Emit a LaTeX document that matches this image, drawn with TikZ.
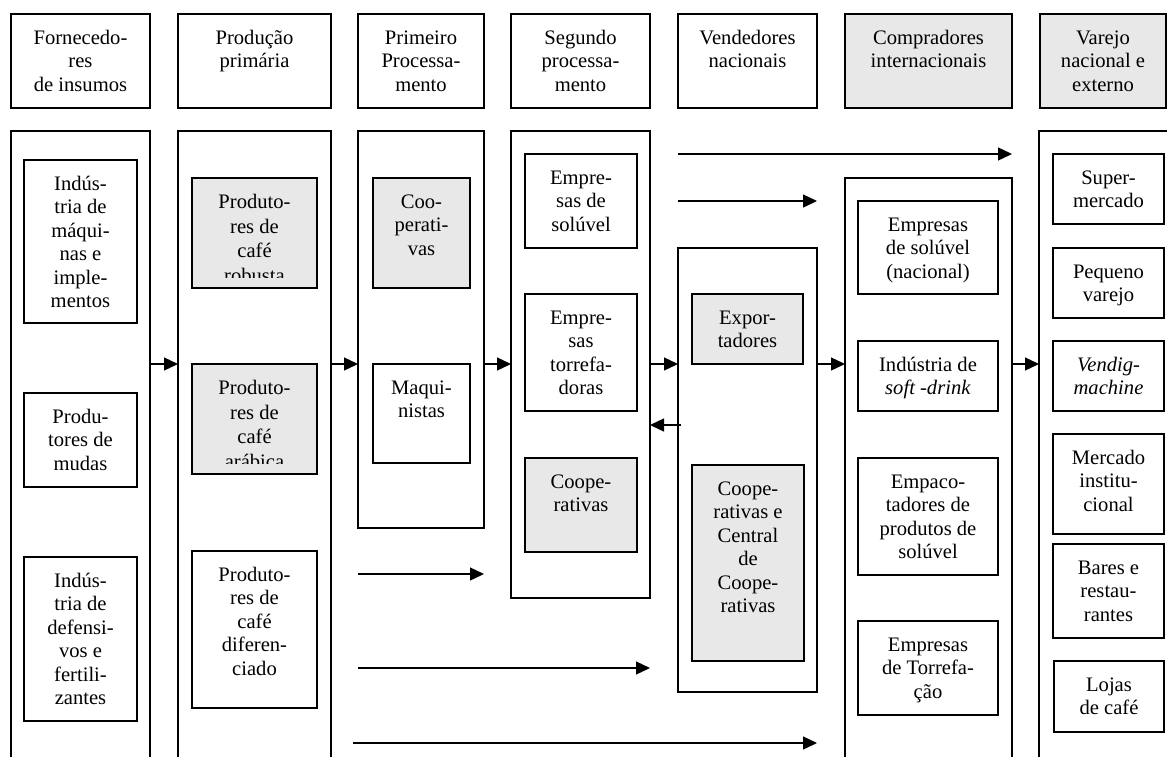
\documentclass[tikz,border=0pt]{standalone}
\usepackage{fontspec}
\setmainfont{Liberation Serif}
\usetikzlibrary{arrows.meta}
\definecolor{boxgray}{RGB}{232,232,232}
\newcommand{\rbox}[6]{\node[#1, minimum width={#5-#3}, minimum height={#6-#4}] (#2) at ({(#3+#5)/2},{(#4+#6)/2}) {};}
\newcommand{\btxt}[3][]{\node[txt,#1] at ([yshift=-13.5pt]#2.north) {\strut #3};}
\begin{document}
\begin{tikzpicture}[x=1pt,y=-1pt,
  frame/.style={draw, line width=1.3pt, inner sep=0pt, outer sep=0pt, rectangle},
  wbox/.style={frame, fill=white},
  gbox/.style={frame, fill=boxgray},
  txt/.style={anchor=north, align=center, inner sep=0pt, font=\fontsize{20.6}{23.5}\selectfont},
  wide/.style={font=\fontsize{20.6}{24.5}\selectfont},
  arr/.style={draw, line width=1.3pt, -{Triangle[length=14pt,width=13pt]}}]
\useasboundingbox (0,0) rectangle (1167,756);
% header row
\rbox{wbox}{h1}{11}{14}{150}{108}
\rbox{wbox}{h2}{178}{14}{331}{108}
\rbox{wbox}{h3}{358}{14}{484}{108}
\rbox{wbox}{h4}{511}{14}{650}{108}
\rbox{wbox}{h5}{678}{14}{817}{108}
\rbox{gbox}{h6}{845}{14}{1012}{108}
\rbox{gbox}{h7}{1040}{14}{1166}{108}
\btxt{h1}{Fornecedo-\\res\\de insumos}
\btxt{h2}{Produção\\primária}
\btxt{h3}{Primeiro\\Processa-\\mento}
\btxt{h4}{Segundo\\processa-\\mento}
\btxt{h5}{Vendedores\\nacionais}
\btxt{h6}{Compradores\\internacionais}
\btxt{h7}{Varejo\\nacional e\\externo}
% columns
\rbox{wbox}{c1}{11}{131}{150}{775}
\rbox{wbox}{c2}{178}{131}{331}{775}
\rbox{wbox}{c3}{358}{131}{484}{528}
\rbox{wbox}{c4}{511}{131}{650}{598}
\rbox{wbox}{c5}{678}{248}{817}{692}
\rbox{wbox}{c6}{845}{178}{1012}{775}
\rbox{wbox}{c7}{1039}{131}{1185}{775}
% column 1
\rbox{wbox}{b11}{24}{160}{137}{323}
\rbox{wbox}{b12}{24}{393}{137}{487}
\rbox{wbox}{b13}{24}{557}{137}{721}
\btxt{b11}{Indús-\\tria de\\máqui-\\nas e\\imple-\\mentos}
\btxt{b12}{Produ-\\tores de\\mudas}
\btxt{b13}{Indús-\\tria de\\defensi-\\vos e\\fertili-\\zantes}
% column 2
\rbox{gbox}{b21}{192}{178}{317}{288}
\rbox{gbox}{b22}{192}{364}{317}{474}
\rbox{wbox}{b23}{192}{551}{317}{708}
\begin{scope}
\clip (b21.north west) rectangle ([yshift=11pt]b21.south east);
\btxt[wide]{b21}{Produto-\\res de\\café\\robusta}
\end{scope}
\begin{scope}
\clip (b22.north west) rectangle ([yshift=11pt]b22.south east);
\btxt[wide]{b22}{Produto-\\res de\\café\\arábica}
\end{scope}
\btxt{b23}{Produto-\\res de\\café\\diferen-\\ciado}
% column 3
\rbox{gbox}{b31}{373}{178}{470}{288}
\rbox{wbox}{b32}{373}{364}{470}{463}
\btxt{b31}{Coo-\\perati-\\vas}
\btxt{b32}{Maqui-\\nistas}
% column 4
\rbox{wbox}{b41}{525}{154}{637}{248}
\rbox{wbox}{b42}{525}{294}{637}{411}
\rbox{gbox}{b43}{525}{458}{637}{552}
\btxt{b41}{Empre-\\sas de\\solúvel}
\btxt{b42}{Empre-\\sas\\torrefa-\\doras}
\btxt{b43}{Coope-\\rativas}
% column 5
\rbox{gbox}{b51}{692}{294}{803}{364}
\rbox{gbox}{b52}{692}{465}{804}{661}
\btxt{b51}{Expor-\\tadores}
\btxt{b52}{Coope-\\rativas e\\Central\\de\\Coope-\\rativas}
% column 6
\rbox{wbox}{b61}{858}{201}{998}{294}
\rbox{wbox}{b62}{858}{341}{998}{411}
\rbox{wbox}{b63}{858}{458}{998}{575}
\rbox{wbox}{b64}{858}{621}{998}{715}
\btxt{b61}{Empresas\\de solúvel\\(nacional)}
\btxt{b62}{Indústria de\\\textit{soft -drink}}
\btxt{b63}{Empaco-\\tadores de\\produtos de\\solúvel}
\btxt{b64}{Empresas\\de Torrefa-\\ção}
% column 7
\rbox{wbox}{b71}{1053}{154}{1164}{224}
\rbox{wbox}{b72}{1053}{248}{1164}{318}
\rbox{wbox}{b73}{1053}{341}{1164}{411}
\rbox{wbox}{b74}{1053}{434}{1164}{534}
\rbox{wbox}{b75}{1053}{544}{1164}{638}
\rbox{wbox}{b76}{1054}{661}{1164}{732}
\btxt{b71}{Super-\\mercado}
\btxt{b72}{Pequeno\\varejo}
\btxt{b73}{\textit{Vendig-}\\\textit{machine}}
\btxt{b74}{Mercado\\institu-\\cional}
\btxt{b75}{Bares e\\restau-\\rantes}
\btxt{b76}{Lojas\\de café}
% arrow levels
\coordinate (ya) at (0,154);
\coordinate (yb) at (0,201);
\coordinate (ym) at (0,364);
\coordinate (yr) at (0,425);
\coordinate (yc) at (0,574);
\coordinate (yd) at (0,668);
\coordinate (ye) at (0,743);
% main flow
\draw[arr] (c1.east |- ym) -- (c2.west |- ym);
\draw[arr] (c2.east |- ym) -- (c3.west |- ym);
\draw[arr] (c3.east |- ym) -- (c4.west |- ym);
\draw[arr] (c4.east |- ym) -- (c5.west |- ym);
\draw[arr] (c5.east |- ym) -- (c6.west |- ym);
\draw[arr] (c6.east |- ym) -- (c7.west |- ym);
\draw[arr] ([xshift=3pt]c5.west |- yr) -- (c4.east |- yr);
% bypass arrows
\draw[arr] (c5.west |- ya) -- (c6.east |- ya);
\draw[arr] (c5.west |- yb) -- (c5.east |- yb);
\draw[arr] (c3.west |- yc) -- (c3.east |- yc);
\draw[arr] (c3.west |- yd) -- (c4.east |- yd);
\draw[arr] ([xshift=-5pt]c3.west |- ye) -- (c5.east |- ye);
\end{tikzpicture}
\end{document}
